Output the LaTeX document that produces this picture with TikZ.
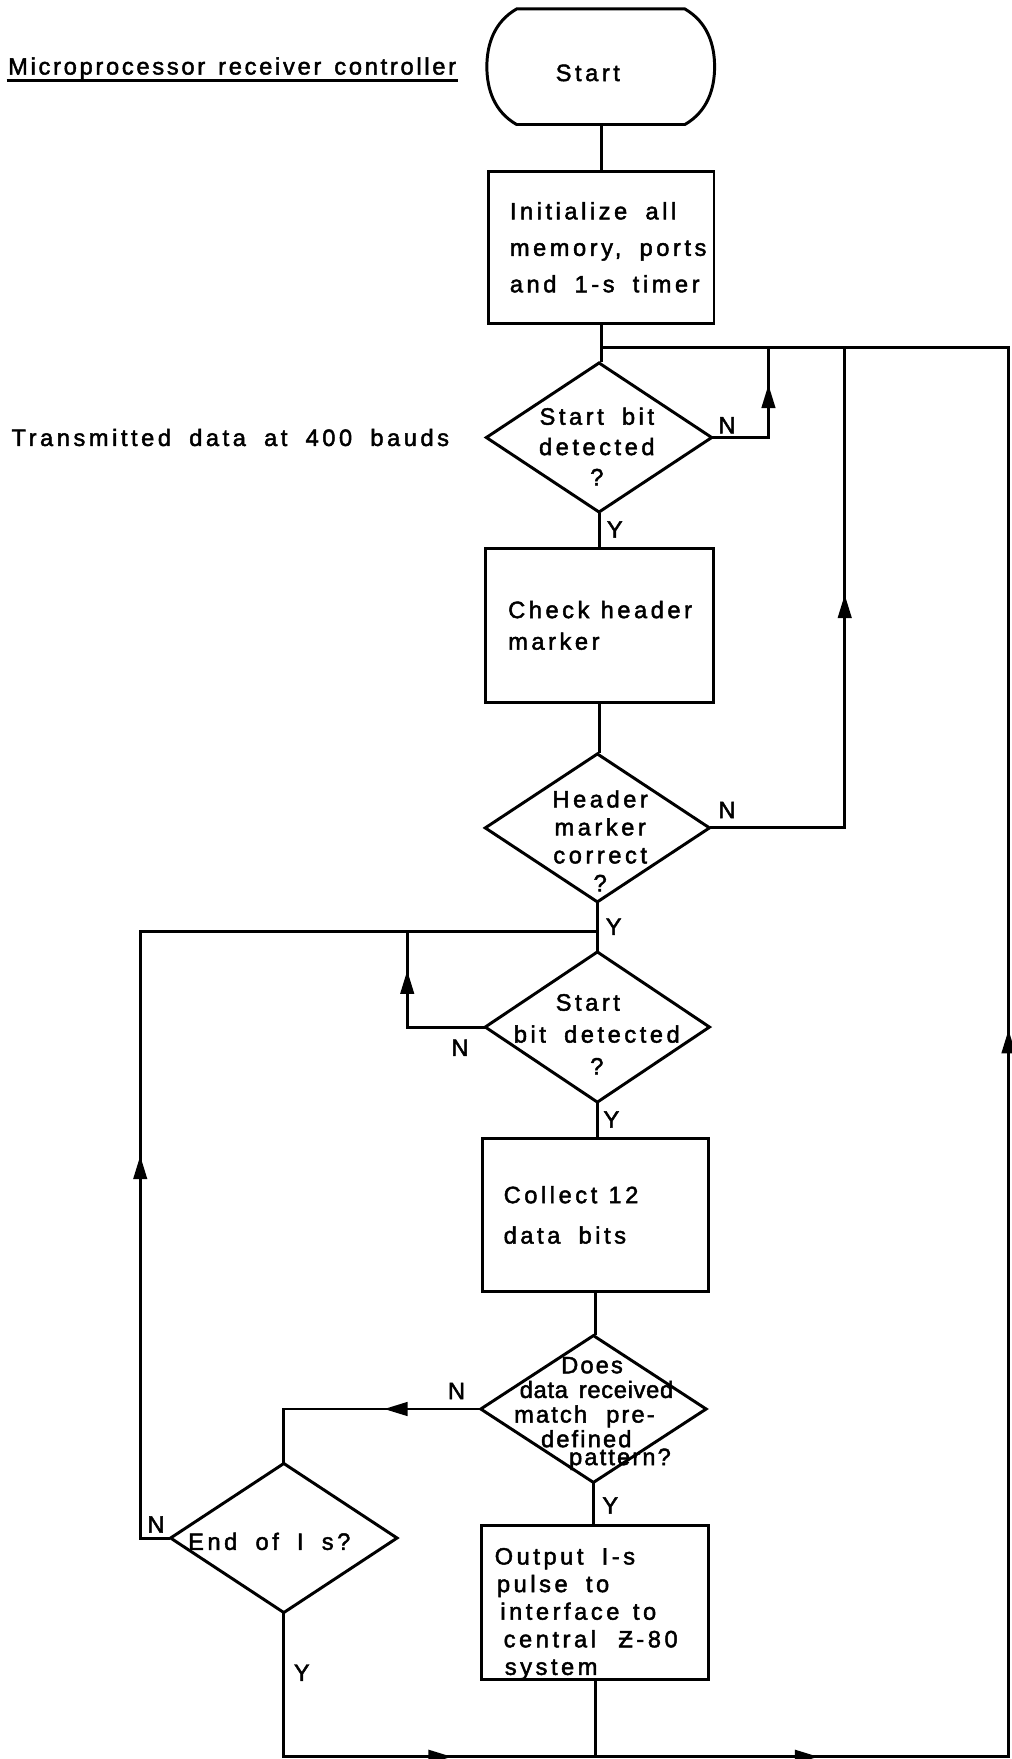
\documentclass[tikz,border=0pt]{standalone}
\usepackage{fontspec}
\setmainfont{Liberation Sans}[LetterSpace=15, WordSpace=1.8, FakeBold=2]
\newfontfamily\headingfont{Liberation Sans}[LetterSpace=11.5, WordSpace=1.4, FakeBold=2]
\newfontfamily\tightfont{Liberation Sans}[LetterSpace=9, WordSpace=2.2, FakeBold=2]
\newfontfamily\tighterfont{Liberation Sans}[LetterSpace=3, WordSpace=1.5, FakeBold=2]
% let the font's own word space apply inside ragged paragraphs
\newcommand\fontspaces{\spaceskip=0pt\relax\xspaceskip=0pt\relax}
\usetikzlibrary{shapes.geometric,arrows.meta,decorations.markings}

\begin{document}
\begin{tikzpicture}[
  x=0.02cm, y=-0.02cm,
  line width=1.5pt,
  every node/.style={font=\fontsize{12}{15}\selectfont},
  procbox/.style={draw, rectangle, inner ysep=0pt, align=left},
  decision/.style={draw, diamond, inner sep=0pt},
  lbl/.style={inner sep=0pt},
  conn/.style={line cap=rect},
  midarrow/.style={postaction={decorate},
    decoration={markings, mark=at position #1 with {\arrow{Triangle[length=0.42cm,width=0.24cm]}}}},
]
\useasboundingbox (0,0) rectangle (902,1568);

% headings
\node[lbl, anchor=west, font=\headingfont\fontsize{12}{15}\selectfont] (title) at (6,61)
  {Microprocessor receiver controller};
\draw[line width=1.1pt] ([yshift=-3pt]title.base west) -- ([yshift=-3pt]title.base east);
\node[lbl, anchor=west] (txdata) at (9,390) {Transmitted data at 400 bauds};

% terminal
\draw[shift={(535.5,59.5)}] (-75,-51.5) -- (75,-51.5)
  .. controls (95,-40) and (101.5,-20) .. (101.5,0)
  .. controls (101.5,20) and (95,40) .. (75,51.5)
  -- (-75,51.5)
  .. controls (-95,40) and (-101.5,20) .. (-101.5,0)
  .. controls (-101.5,-20) and (-95,-40) .. cycle;
\node[lbl] (start) at (524,65) {Start};
\coordinate (startbot) at (536,111);

% process boxes
\node[procbox, minimum height=2.7cm, text width=3.26cm, inner xsep=0.38cm,
  font=\fontsize{12}{18.5}\selectfont] (init) at (536,220.5)
  {\fontspaces\mbox{Initialize all}\\\mbox{memory, ports}\\\mbox{and 1-s timer}};
\node[procbox, minimum height=2.74cm, text width=3.26cm, inner xsep=0.4cm,
  font=\fontsize{12}{16}\selectfont] (check) at (534.5,557.5)
  {\mbox{Check\hspace{0.2cm}header}\\marker};
\node[procbox, minimum height=2.72cm, text width=3.28cm, inner xsep=0.38cm,
  font=\fontsize{12}{20.5}\selectfont] (collect) at (531,1083)
  {\fontspaces\mbox{Collect\hspace{0.2cm}12}\\\mbox{data bits}};
\node[procbox, minimum height=2.7cm, text width=3.58cm, inner xsep=0.24cm,
  font=\fontsize{12}{14}\selectfont] (output) at (530.5,1428.5)
  {\fontspaces\rule{0pt}{0.7cm}\mbox{Output I-s}\\\hspace*{0.04cm}\mbox{pulse to}\\\hspace*{0.1cm}\mbox{interface\hspace{0.24cm}to}\\\hspace*{0.16cm}\mbox{central\hspace{0.4cm}Ƶ-80}\\\hspace*{0.18cm}system};

% decisions
\node[decision, minimum width=4.04cm, minimum height=2.68cm] (d1) at (534,390) {};
\node[decision, minimum width=4.02cm, minimum height=2.66cm] (d2) at (532.5,738) {};
\node[decision, minimum width=4.02cm, minimum height=2.7cm] (d3) at (532.5,915.5) {};
\node[decision, minimum width=4.04cm, minimum height=2.64cm] (d4) at (529,1256) {};
\node[decision, minimum width=4.06cm, minimum height=2.68cm] (d5) at (253,1371) {};

\node[lbl, align=center, font=\fontsize{12}{15.4}\selectfont] (d1txt) at (532,398) {Start bit\\detected\\?};
\node[lbl, align=center, font=\fontsize{12}{14.2}\selectfont] (d2txt) at (535,749.5) {Header\\marker\\correct\\?};
\node[lbl, align=center, font=\fontsize{12}{16.2}\selectfont] (d3txt) at (532,922) {Start\hspace*{0.32cm}\\bit detected\\?};
\node[lbl, align=left, anchor=west, font=\tightfont\fontsize{12}{12.5}\selectfont] (d4txt) at (457,1260)
  {\hspace*{0.84cm}Does\\\hspace*{0.1cm}{\tighterfont data received}\\match pre-\\\hspace*{0.48cm}defined\\[-0.12cm]\hspace*{0.98cm}pattern?};
\node[lbl] (d5txt) at (240,1374) {End of I s?};

% branch labels
\node[lbl] (n1) at (648,379) {N};
\node[lbl] (y1) at (548,472) {Y};
\node[lbl] (n2) at (648,722) {N};
\node[lbl] (y2) at (547,826) {Y};
\node[lbl] (n3) at (410,934) {N};
\node[lbl] (y3) at (545,998) {Y};
\node[lbl] (n4) at (407,1240) {N};
\node[lbl] (y4) at (544,1342) {Y};
\node[lbl] (n5) at (139,1359) {N};
\node[lbl] (y5) at (269,1491) {Y};

% loop corners
\coordinate (rtop) at (899,310);
\coordinate (rbot) at (899,1566);
\coordinate (n1x) at (685,310);
\coordinate (n2x) at (753,310);
\coordinate (lt) at (125,830);
\coordinate (n3x) at (363,830);

% main flow
\draw[conn] (startbot) -- (startbot |- init.north);
\draw[conn] (init.south) -- (init.south |- d1.north);
\draw[conn] (d1.south) -- (d1.south |- check.north);
\draw[conn] (check.south) -- (check.south |- d2.north);
\draw[conn] (d2.south) -- (d2.south |- d3.north);
\draw[conn] (d3.south) -- (d3.south |- collect.north);
\draw[conn] (collect.south) -- (collect.south |- d4.north);
\draw[conn] (d4.south) -- (d4.south |- output.north);

% return to the start-bit wait
\draw[conn] (init.south |- rtop) -- (rtop);
\draw[conn] (d1.east) -- (d1.east -| n1x);
\draw[conn, midarrow=0.59] (d1.east -| n1x) -- (n1x);
\draw[conn] (d2.east) -- (d2.east -| n2x);
\draw[conn, midarrow=0.486] (d2.east -| n2x) -- (n2x);
\draw[conn, midarrow=0.516] (rbot) -- (rtop);

% second start-bit wait
\draw[conn] (d2.south |- lt) -- (lt);
\draw[conn] (d3.west) -- (d3.west -| n3x);
\draw[conn, midarrow=0.59] (d3.west -| n3x) -- (n3x);

% pattern mismatch and 1-s timeout
\draw[conn, midarrow=0.486] (d4.west) -- (d4.west -| d5.north);
\draw[conn] (d4.west -| d5.north) -- (d5.north);
\draw[conn] (d5.west) -- (d5.west -| lt);
\draw[conn, midarrow=0.63] (d5.west -| lt) -- (lt);

% bottom return line
\draw[conn] (d5.south) -- (d5.south |- rbot);
\draw[conn] (output.south) -- (output.south |- rbot);
\draw[conn, midarrow=0.54] (d5.south |- rbot) -- (output.south |- rbot);
\draw[conn, midarrow=0.54] (output.south |- rbot) -- (rbot);
\end{tikzpicture}
\end{document}
